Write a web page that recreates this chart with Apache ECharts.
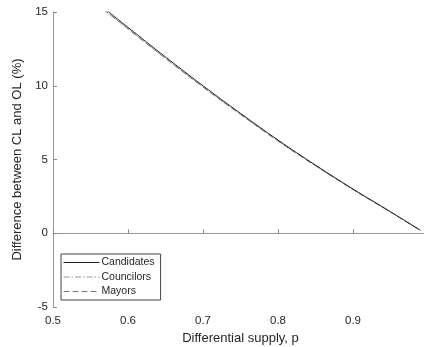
<!DOCTYPE html>
<html><head><meta charset="utf-8">
<script src="https://cdn.jsdelivr.net/npm/echarts@6/dist/echarts.min.js"></script>
<style>html,body{margin:0;padding:0;background:#fff}#c{width:424px;height:347px}</style>
</head><body><div id="c"></div>
<script>
const xValues = [0.567, 0.6, 0.65, 0.7, 0.75, 0.8, 0.85, 0.9, 0.95, 0.99];
const candidates = [15.3, 13.96, 11.95, 10.0, 8.13, 6.32, 4.62, 3.0, 1.46, 0.2];
const councilors = [15.2, 13.87, 11.87, 9.93, 8.07, 6.27, 4.58, 2.97, 1.44, 0.18];
const mayors     = [15.18, 13.85, 11.85, 9.91, 8.05, 6.25, 4.57, 2.96, 1.43, 0.17];
const seriesNames = ['Candidates', 'Councilors', 'Mayors'];
const xTicks = [0.5, 0.6, 0.7, 0.8, 0.9];
const yTicks = [-5, 0, 5, 10, 15];

const font = 'Liberation Sans, Arial, sans-serif';
const pair = (xs, ys) => xs.map((x, i) => [x, ys[i]]);
const chart = echarts.init(document.getElementById('c'));
chart.setOption({
  animation: false,
  backgroundColor: '#fff',
  grid: {left: 53, top: 12, right: -4, bottom: 40, outerBoundsMode: 'none', containLabel: false},
  legend: {
    left: 61, top: 254, orient: 'vertical', itemWidth: 36, itemHeight: 10, itemGap: 3.5,
    padding: [3, 6, 3, 2], borderColor: '#444', borderWidth: 1, backgroundColor: '#fff',
    itemStyle: {opacity: 0},
    lineStyle: {width: 1},
    textStyle: {fontFamily: font, fontSize: 10.5, color: '#262626', padding: [0, 0, 0, -3]},
    data: seriesNames
  },
  xAxis: {
    type: 'value', min: 0.5, max: 1.0, interval: 0.1,
    name: 'Differential supply, p', nameLocation: 'middle', nameGap: 24,
    nameTextStyle: {fontFamily: font, fontSize: 13, color: '#262626'},
    axisLine: {lineStyle: {color: '#999'}},
    axisTick: {inside: true, length: 4, lineStyle: {color: '#888'}},
    axisLabel: {fontFamily: font, fontSize: 11.5, color: '#262626', showMaxLabel: false, margin: 8,
      formatter: v => v.toFixed(1)},
    splitLine: {show: false}
  },
  yAxis: {
    type: 'value', min: -5, max: 15, interval: 5,
    name: 'Difference between CL and OL (%)', nameLocation: 'middle', nameGap: 24,
    nameTextStyle: {fontFamily: font, fontSize: 13, color: '#262626'},
    axisLine: {show: true, lineStyle: {color: '#999'}},
    axisTick: {show: true, inside: true, length: 4, lineStyle: {color: '#888'}},
    axisLabel: {fontFamily: font, fontSize: 11.5, color: '#262626', margin: 5},
    splitLine: {show: false}
  },
  series: [
    {name: seriesNames[0], type: 'line', smooth: 0.4, symbol: 'none', data: pair(xValues, candidates),
      lineStyle: {color: '#222', width: 1, type: 'solid'}, itemStyle: {color: '#222'}, z: 3},
    {name: seriesNames[1], type: 'line', smooth: 0.4, symbol: 'none', data: pair(xValues, councilors),
      lineStyle: {color: '#999', width: 1, type: [6, 2, 1.5, 2]}, itemStyle: {color: '#999'}, z: 2},
    {name: seriesNames[2], type: 'line', smooth: 0.4, symbol: 'none', data: pair(xValues, mayors),
      lineStyle: {color: '#777', width: 1, type: [6, 3]}, itemStyle: {color: '#777'}, z: 2}
  ]
});
</script></body></html>
